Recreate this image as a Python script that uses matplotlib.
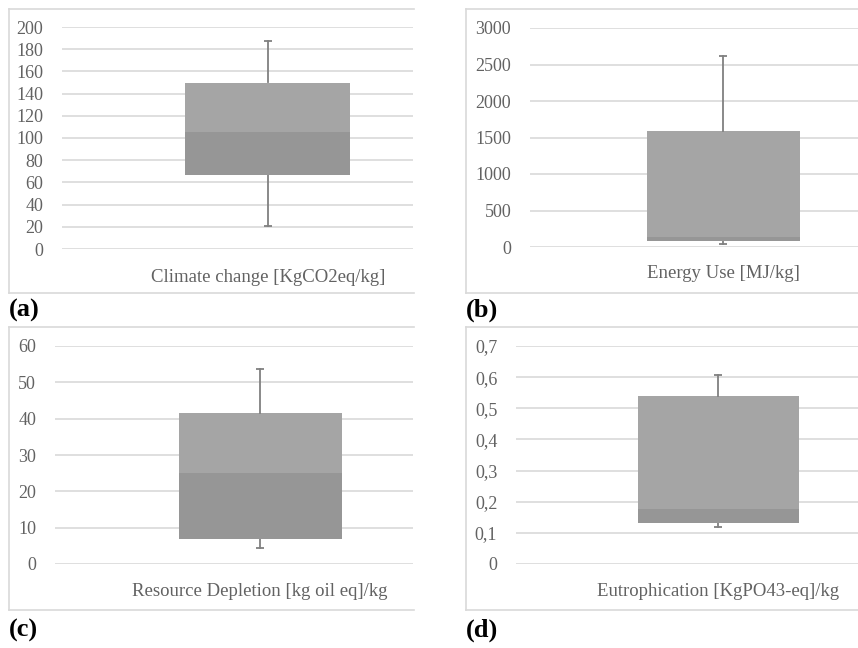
import matplotlib
matplotlib.use('Agg')
import matplotlib.pyplot as plt
from matplotlib.ticker import MultipleLocator, FuncFormatter
from matplotlib.lines import Line2D

# box plot values
titles = ['Climate change [KgCO2eq/kg]', 'Energy Use [MJ/kg]',
          'Resource Depletion [kg oil eq]/kg', 'Eutrophication [KgPO43-eq]/kg']
panel_labels = ['(a)', '(b)', '(c)', '(d)']
whisker_low = [21, 37, 4.5, 0.119]
q1 = [67, 86, 7, 0.133]
median = [105, 140, 25, 0.177]
q3 = [150, 1590, 41.5, 0.54]
whisker_high = [187, 2616, 53.6, 0.607]
y_max = [200, 3000, 60, 0.7]
y_step = [20, 500, 10, 0.1]

W, H = 858, 648
fig = plt.figure(figsize=(W / 100, H / 100), dpi=100)
plt.rcParams['font.family'] = ['Liberation Serif', 'DejaVu Serif']

# pixel layout: (grid left, grid right, y of top gridline, y of zero line, box centre, box width)
layout = [
    (62, 413, 27, 249, 268, 165),
    (530, 858, 28, 247, 723, 153),
    (55, 413, 346, 564, 260, 163),
    (516, 858, 346, 564, 718, 161),
]
frames = [(9, 414, 9, 293), (466, 860, 9, 293), (9, 414, 327, 610), (466, 860, 327, 610)]
label_pos = [(9, 310), (466, 310), (9, 630), (466, 630)]
title_y = [277, 274, 591, 592]

grid_col = '#d9d9d9'
text_col = '#626262'
upper_col = '#a5a5a5'
lower_col = '#969696'
whisk_col = '#808080'


def fx(px):
    return px / W


def fy(py):
    return 1 - py / H


for i in range(4):
    gl, gr, yt, y0, cx, bw = layout[i]
    ax = fig.add_axes([fx(gl), fy(y0), fx(gr - gl), (y0 - yt) / H])
    ax.set_xlim(-(cx - gl) / bw, (gr - cx) / bw)
    ax.set_ylim(0, y_max[i])
    for s in ax.spines.values():
        s.set_visible(False)
    ax.yaxis.set_major_locator(MultipleLocator(y_step[i]))
    if i == 3:
        ax.yaxis.set_major_formatter(FuncFormatter(
            lambda v, p: '0' if abs(v) < 1e-9 else ('%.1f' % v).replace('.', ',')))
    ax.tick_params(axis='y', length=0, pad=13.5, labelsize=13, labelcolor=text_col)
    ax.set_xticks([])
    ax.grid(axis='y', color=grid_col, lw=1.2)
    ax.set_axisbelow(True)

    # box: lower half darker, upper half lighter
    ax.bar(0, median[i] - q1[i], bottom=q1[i], width=1, color=lower_col, zorder=2)
    ax.bar(0, q3[i] - median[i], bottom=median[i], width=1, color=upper_col, zorder=2)
    # whiskers
    ax.plot([0, 0], [q3[i], whisker_high[i]], color=whisk_col, lw=1.3, zorder=3)
    ax.plot([0, 0], [whisker_low[i], q1[i]], color=whisk_col, lw=1.3, zorder=1.5)
    ax.plot([0, 0], [whisker_high[i], whisker_low[i]], ls='none', marker='_',
            ms=6, mew=1.3, color=whisk_col, zorder=3)

    # axis title below the plot
    fig.text(fx(cx), fy(title_y[i]), titles[i], ha='center', va='center',
             fontsize=13.5, color=text_col)

    # chart frame (right side is cut off in the picture)
    x0, x1, ft, fb = frames[i]
    for xs, ys in [([x0, x1], [ft, ft]), ([x0, x1], [fb, fb]), ([x0, x0], [ft, fb])]:
        fig.add_artist(Line2D([fx(v) for v in xs], [fy(v) for v in ys],
                              color=grid_col, lw=1.2))

    lx, ly = label_pos[i]
    fig.text(fx(lx), fy(ly), panel_labels[i], ha='left', va='center',
             fontsize=19, fontweight='bold', color='black')

fig.savefig('out.png', dpi=100)
